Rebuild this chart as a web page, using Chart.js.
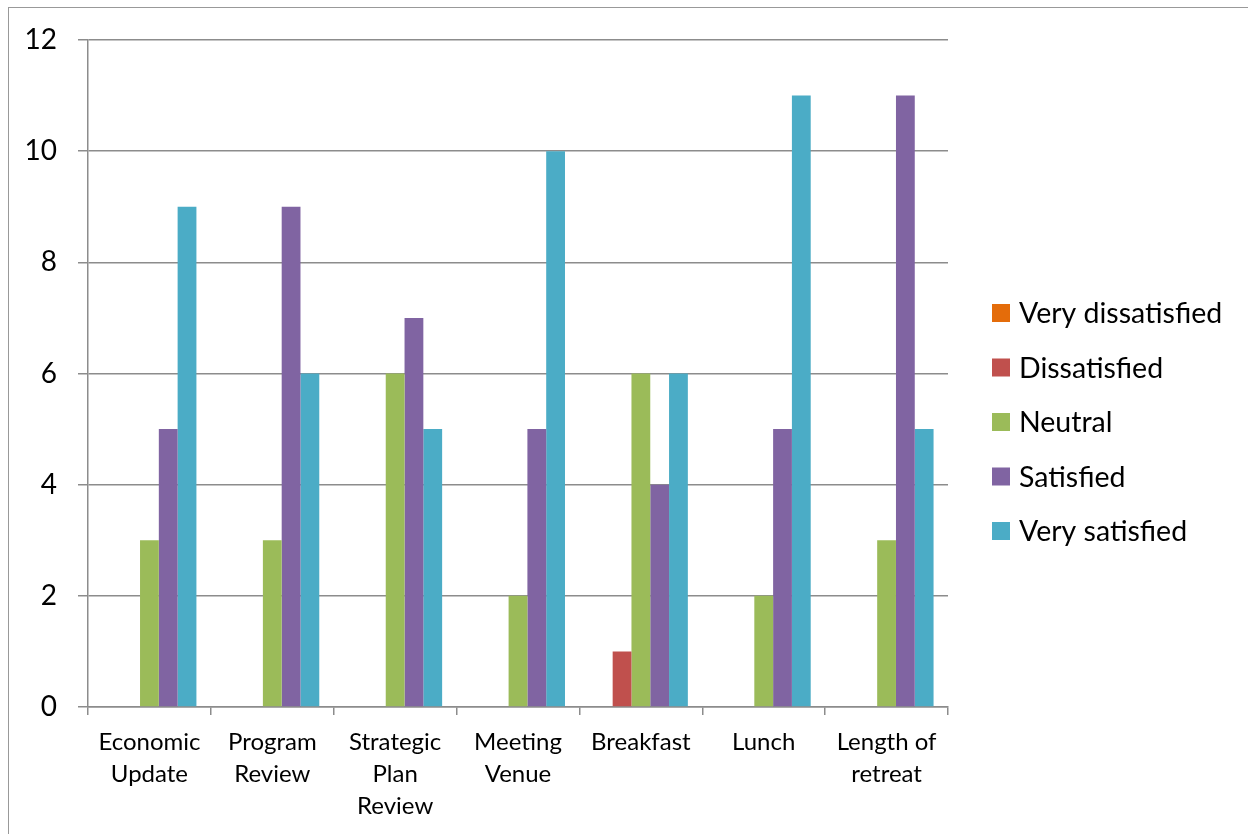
<!DOCTYPE html>
<html>
<head>
<meta charset="utf-8">
<script src="https://cdn.jsdelivr.net/npm/chart.js@4/dist/chart.umd.min.js"></script>
<style>
  html, body { margin: 0; padding: 0; background: #fff; }
  #wrap { position: relative; width: 1248px; height: 834px; }
  #frame { position: absolute; left: 8px; top: 7px; right: -2px; bottom: -2px;
           border-left: 1.5px solid #999; border-top: 1.5px solid #999; }
  canvas { position: absolute; left: 0; top: 0; }
</style>
</head>
<body>
<div id="wrap">
  <div id="frame"></div>
  <canvas id="grafico" width="1248" height="834"></canvas>
</div>
<script>
// DADOS
var categorias = [
  ['Economic', 'Update'],
  ['Program', 'Review'],
  ['Strategic', 'Plan', 'Review'],
  ['Meeting', 'Venue'],
  'Breakfast',
  'Lunch',
  ['Length of', 'retreat']
];
var series = ['Very dissatisfied', 'Dissatisfied', 'Neutral', 'Satisfied', 'Very satisfied'];
var cores = ['#E46C0A', '#C0504D', '#9BBB59', '#8064A2', '#4BACC6'];

var muitoInsatisfeito = [0, 0, 0, 0, 0, 0, 0];
var insatisfeito      = [0, 0, 0, 0, 1, 0, 0];
var neutro            = [3, 3, 6, 2, 6, 2, 3];
var satisfeito        = [5, 9, 7, 5, 4, 5, 11];
var muitoSatisfeito   = [9, 6, 5, 10, 6, 11, 5];

var valores = [muitoInsatisfeito, insatisfeito, neutro, satisfeito, muitoSatisfeito];

var FONTE = 'Lato, "Open Sans", sans-serif';

// legenda desenhada à direita do gráfico
var legenda = {
  id: 'legenda',
  afterDraw: function (chart) {
    var ctx = chart.ctx;
    var ds = chart.data.datasets;
    var x = 992, y0 = 313, passo = 54.5;
    ctx.save();
    ctx.font = '28.5px ' + FONTE;
    ctx.textBaseline = 'middle';
    ctx.textAlign = 'left';
    ds.forEach(function (d, i) {
      var y = y0 + i * passo;
      ctx.fillStyle = d.backgroundColor;
      ctx.fillRect(x, y - 9, 18, 18);
      ctx.fillStyle = '#000';
      ctx.fillText(d.label, x + 27, y + 1);
    });
    ctx.restore();
  }
};

new Chart(document.getElementById('grafico'), {
  type: 'bar',
  data: {
    labels: categorias,
    datasets: series.map(function (nome, i) {
      return {
        label: nome,
        data: valores[i],
        backgroundColor: cores[i],
        categoryPercentage: 0.765,
        barPercentage: 1
      };
    })
  },
  options: {
    responsive: false,
    animation: false,
    layout: { padding: { top: 40, right: 300, left: 0, bottom: 0 } },
    plugins: { legend: { display: false }, tooltip: { enabled: false } },
    scales: {
      y: {
        min: 0, max: 12,
        ticks: { stepSize: 2, color: '#000', padding: 21, font: { family: FONTE, size: 28 } },
        grid: { color: '#8c8c8c', lineWidth: 1.5, tickLength: 10 },
        border: { color: '#8c8c8c', width: 1.5 },
        afterFit: function (s) { s.width = 88; }
      },
      x: {
        ticks: { color: '#000', padding: 11, maxRotation: 0, autoSkip: false,
                 font: { family: FONTE, size: 24, lineHeight: 1.33 } },
        grid: { drawOnChartArea: false, drawTicks: true, tickLength: 8, color: '#8c8c8c', lineWidth: 1.5 },
        border: { color: '#8c8c8c', width: 1.5 },
        afterFit: function (s) { s.height = 127; }
      }
    }
  },
  plugins: [legenda]
});
</script>
</body>
</html>
